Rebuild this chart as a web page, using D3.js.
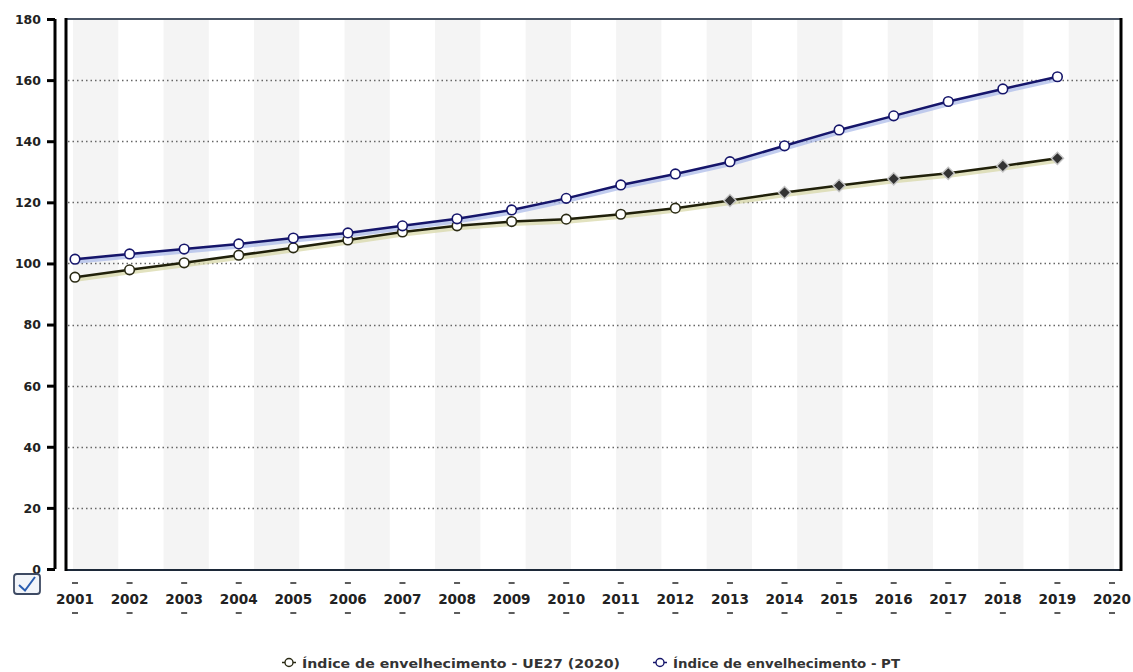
<!DOCTYPE html>
<html><head><meta charset="utf-8">
<script src="https://cdn.jsdelivr.net/npm/d3@7"></script>
<style>
html,body{margin:0;padding:0;background:#fff;}
svg{display:block;}
</style></head>
<body>
<svg id="chart" width="1133" height="672"></svg>
<script>
const years = ["2001","2002","2003","2004","2005","2006","2007","2008","2009","2010","2011","2012","2013","2014","2015","2016","2017","2018","2019","2020"];
const dataYears = years.slice(0, 19);
const ue27 = [95.5,97.9,100.2,102.7,105.1,107.7,110.3,112.3,113.7,114.5,116.1,118.1,120.6,123.2,125.5,127.7,129.5,131.9,134.4];
const pt = [101.4,103.1,104.7,106.4,108.3,110.0,112.3,114.6,117.5,121.3,125.7,129.3,133.3,138.5,143.7,148.3,153.0,157.1,161.1];
const ueProjected = [false,false,false,false,false,false,false,false,false,false,false,false,true,true,true,true,true,true,true];
const yTicks = [0,20,40,60,80,100,120,140,160,180];
const seriesNames = ["Índice de envelhecimento - UE27 (2020)", "Índice de envelhecimento - PT"];
const stripeCount = 23;

const svg = d3.select("#chart");
const x = d3.scalePoint().domain(years).range([75, 1112]);
const y = d3.scaleLinear().domain([0, 180]).range([569, 19]);
const stripes = d3.scaleBand().domain(d3.range(stripeCount)).range([73, 1114]).paddingInner(0);

// stripes
svg.append("g").selectAll("rect").data(d3.range(stripeCount).filter(i => i % 2 === 0)).join("rect")
  .attr("x", i => stripes(i)).attr("width", stripes.bandwidth())
  .attr("y", y(180) + 1).attr("height", y(0) - y(180) - 1)
  .attr("fill", "#f4f4f4");

// dotted gridlines
svg.append("g").selectAll("line").data(yTicks.filter(t => t > 0 && t < 180)).join("line")
  .attr("x1", 68).attr("x2", 1119)
  .attr("y1", d => Math.round(y(d)) + 0.5).attr("y2", d => Math.round(y(d)) + 0.5)
  .attr("stroke", "#666").attr("stroke-width", 1.3).attr("stroke-dasharray", "1.5,3");

// frame
const fx0 = 66, fx1 = 1121, fy0 = y(180), fy1 = y(0) + 1;
svg.append("line").attr("x1", fx0).attr("x2", fx1).attr("y1", fy0).attr("y2", fy0).attr("stroke", "#4a5566").attr("stroke-width", 2.2);
svg.append("line").attr("x1", fx0).attr("x2", fx1).attr("y1", fy1).attr("y2", fy1).attr("stroke", "#1c2838").attr("stroke-width", 2.2);
svg.append("line").attr("x1", fx0).attr("x2", fx0).attr("y1", fy0 - 1).attr("y2", fy1 + 1).attr("stroke", "#000").attr("stroke-width", 3);
svg.append("line").attr("x1", fx1).attr("x2", fx1).attr("y1", fy0 - 1).attr("y2", fy1 + 1).attr("stroke", "#000").attr("stroke-width", 3);

// y axis
const yAxis = d3.axisLeft(y).tickValues(yTicks).tickSize(8).tickPadding(6);
const yg = svg.append("g").attr("transform", "translate(55,0)").call(yAxis);
yg.select(".domain").attr("stroke", "#000").attr("stroke-width", 3).attr("d", `M0,${y(180)}V${y(0)}`);
yg.selectAll(".tick line").attr("stroke", "#000").attr("stroke-width", 3);
yg.selectAll(".tick text").attr("font-family", "DejaVu Sans").attr("font-weight", "bold")
  .attr("font-size", 12.5).attr("fill", "#222").attr("dy", "0.35em");

// x axis labels with dashes
const xg = svg.append("g");
const xt = xg.selectAll("g").data(years).join("g").attr("transform", d => `translate(${x(d)},0)`);
xt.append("text").text(d => d).attr("y", 604).attr("text-anchor", "middle")
  .attr("font-family", "DejaVu Sans").attr("font-weight", "bold").attr("font-size", 13.6).attr("fill", "#222");
xt.append("line").attr("x1", -3).attr("x2", 3).attr("y1", 583).attr("y2", 583).attr("stroke", "#333").attr("stroke-width", 1.6);
xt.append("line").attr("x1", -3).attr("x2", 3).attr("y1", 613).attr("y2", 613).attr("stroke", "#333").attr("stroke-width", 1.6);

// checkbox icon
const cb = svg.append("g");
cb.append("rect").attr("x", 14).attr("y", 574).attr("width", 26).attr("height", 20).attr("rx", 3)
  .attr("fill", "#f2f5fa").attr("stroke", "#3d4a63").attr("stroke-width", 1.8);
cb.append("path").attr("d", "M19,585 L25,590.5 L35,577").attr("fill", "none").attr("stroke", "#2a5db0").attr("stroke-width", 2);

// lines
const line = d3.line().x((d, i) => x(dataYears[i])).y(d => y(d));
function drawSeries(vals, color, glow) {
  svg.append("path").datum(vals).attr("d", line).attr("fill", "none")
    .attr("stroke", glow).attr("stroke-width", 5).attr("transform", "translate(1,2)").attr("opacity", 0.7);
  svg.append("path").datum(vals).attr("d", line).attr("fill", "none")
    .attr("stroke", color).attr("stroke-width", 2.5);
}
drawSeries(ue27, "#20200a", "#d6d6a4");
drawSeries(pt, "#15156a", "#a8b8e8");

// UE27 markers
const ueIdx = d3.range(ue27.length);
svg.append("g").selectAll("circle").data(ueIdx.filter(i => !ueProjected[i])).join("circle")
  .attr("cx", i => x(dataYears[i])).attr("cy", i => y(ue27[i])).attr("r", 4.8)
  .attr("fill", "#fff").attr("stroke", "#2a2a14").attr("stroke-width", 1.6);
svg.append("g").selectAll("path").data(ueIdx.filter(i => ueProjected[i])).join("path")
  .attr("d", d3.symbol().type(d3.symbolSquare).size(75))
  .attr("transform", i => `translate(${x(dataYears[i])},${y(ue27[i])}) rotate(45)`)
  .attr("fill", "#333").attr("stroke", "#c4c4c4").attr("stroke-width", 1.4);

// PT markers
svg.append("g").selectAll("circle").data(d3.range(pt.length)).join("circle")
  .attr("cx", i => x(dataYears[i])).attr("cy", i => y(pt[i])).attr("r", 4.8)
  .attr("fill", "#fff").attr("stroke", "#15156a").attr("stroke-width", 1.6);

// legend
const legend = svg.append("g");
const legItems = [
  {name: seriesNames[0], color: "#2a2a14", sx: 289, tx: 302, w: 318},
  {name: seriesNames[1], color: "#15156a", sx: 660, tx: 673, w: 227}
];
legItems.forEach(it => {
  legend.append("line").attr("x1", it.sx - 7).attr("x2", it.sx + 7).attr("y1", 662.5).attr("y2", 662.5)
    .attr("stroke", it.color).attr("stroke-width", 1.5);
  legend.append("circle").attr("cx", it.sx).attr("cy", 662.5).attr("r", 4)
    .attr("fill", "#fff").attr("stroke", it.color).attr("stroke-width", 1.4);
  legend.append("text").text(it.name).attr("x", it.tx).attr("y", 668)
    .attr("font-family", "DejaVu Sans").attr("font-weight", "bold").attr("font-size", 13)
    .attr("textLength", it.w).attr("lengthAdjust", "spacingAndGlyphs")
    .attr("fill", "#333");
});
</script>
</body></html>
